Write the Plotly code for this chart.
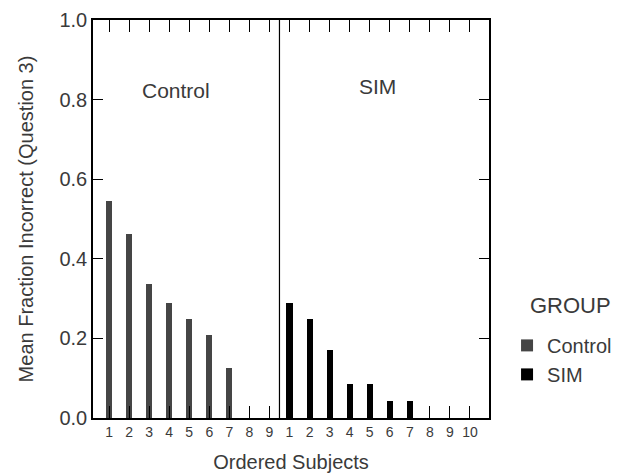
import plotly.graph_objects as go

control_labels = ["1", "2", "3", "4", "5", "6", "7", "8", "9"]
control_values = [0.545, 0.462, 0.337, 0.29, 0.25, 0.208, 0.125, 0.0, 0.0]
sim_labels = ["1", "2", "3", "4", "5", "6", "7", "8", "9", "10"]
sim_values = [0.29, 0.25, 0.17, 0.085, 0.085, 0.042, 0.042, 0.0, 0.0, 0.0]
y_ticks = [0.0, 0.2, 0.4, 0.6, 0.8, 1.0]

n_c = len(control_labels)
x_control = list(range(n_c))
x_sim = [n_c + i for i in range(len(sim_labels))]
divider = n_c - 0.5

font_family = "Liberation Sans, Arial, sans-serif"
text_color = "#3a3a3a"

fig = go.Figure()
fig.add_trace(go.Bar(x=x_control, y=control_values, name="Control",
                     marker=dict(color="#454545", line=dict(width=0)), width=0.3))
fig.add_trace(go.Bar(x=x_sim, y=sim_values, name="SIM",
                     marker=dict(color="#000000", line=dict(width=0)), width=0.3))

fig.add_shape(type="line", xref="x", yref="y", x0=divider, x1=divider, y0=0, y1=1,
              line=dict(color="black", width=1.2))

fig.add_annotation(x=3.35, y=0.822, xref="x", yref="y", text="Control", showarrow=False,
                   font=dict(size=21, color=text_color, family=font_family))
fig.add_annotation(x=13.4, y=0.834, xref="x", yref="y", text="SIM", showarrow=False,
                   font=dict(size=21, color=text_color, family=font_family))
# legend heading
fig.add_annotation(x=528 / 621, y=1 - 305 / 473, xref="paper", yref="paper",
                   text="GROUP", showarrow=False, xanchor="left", yanchor="middle",
                   font=dict(size=22, color=text_color, family=font_family))
fig.layout.annotations[-1].update(xref="x domain", yref="y domain",
                                  x=(528 - 93) / 396, y=(418 - 305) / 398)

fig.update_layout(
    width=621, height=473,
    margin=dict(l=93, r=132, t=20, b=55, autoexpand=False),
    paper_bgcolor="white", plot_bgcolor="white",
    font=dict(family=font_family, color=text_color),
    showlegend=True,
    bargap=0,
    legend=dict(
        font=dict(size=20, color=text_color),
        xref="container", yref="container",
        x=0.8165, xanchor="left", y=0.311, yanchor="top",
        bgcolor="rgba(0,0,0,0)", itemwidth=30, tracegroupgap=0,
    ),
    xaxis=dict(
        range=[-0.8, 18.95], automargin=False,
        tickmode="array", tickvals=x_control + x_sim, ticktext=control_labels + sim_labels,
        ticks="inside", ticklen=12, tickcolor="black", tickwidth=1,
        showline=True, linecolor="black", linewidth=1.5, mirror="ticks",
        showgrid=False, zeroline=False,
        tickfont=dict(size=14, color=text_color),
        title=dict(text="Ordered Subjects", font=dict(size=20, color=text_color), standoff=20),
    ),
    yaxis=dict(
        range=[0, 1.0], automargin=False,
        tickmode="array", tickvals=y_ticks, tickformat=".1f",
        ticks="inside", ticklen=10, tickcolor="black", tickwidth=1,
        showline=True, linecolor="black", linewidth=1.5, mirror="ticks",
        showgrid=False, zeroline=False,
        tickfont=dict(size=20, color=text_color),
        title=dict(text="Mean Fraction Incorrect (Question 3)", font=dict(size=20, color=text_color), standoff=20),
    ),
)

fig.write_html("out.html")
